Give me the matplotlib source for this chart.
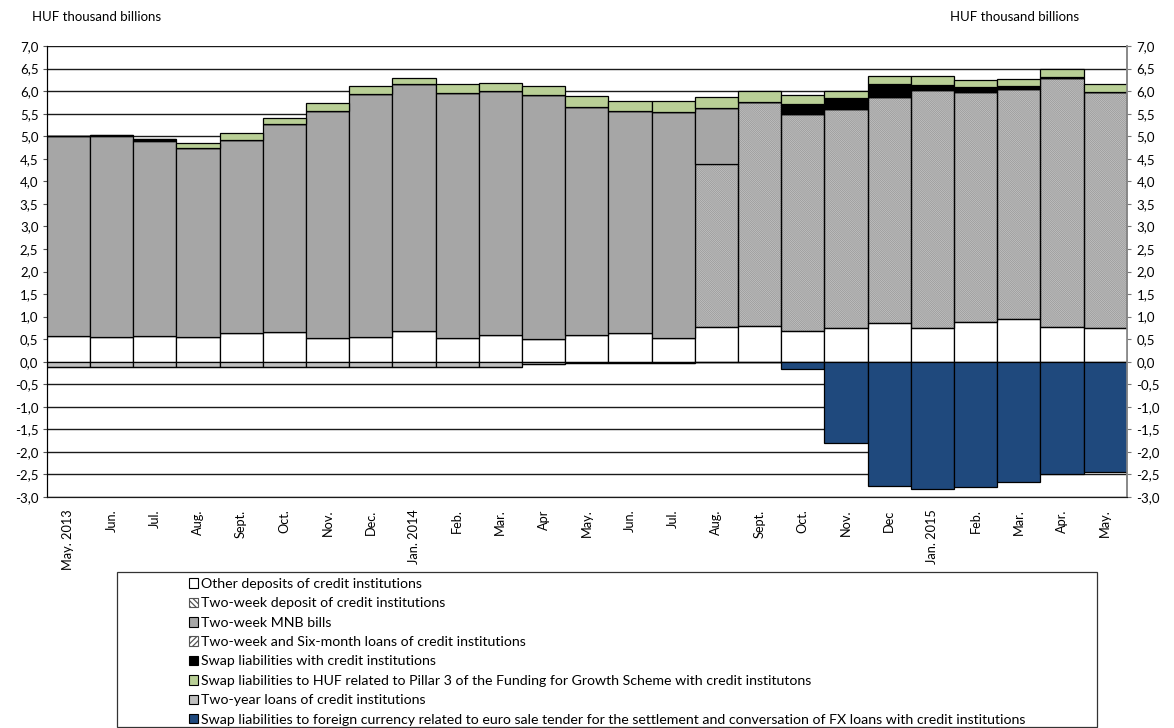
import numpy as np
import matplotlib.pyplot as plt
from matplotlib.patches import Patch, Rectangle

plt.rcParams['font.family'] = ['Lato', 'DejaVu Sans']
plt.rcParams['hatch.linewidth'] = 0.9

months = ['May. 2013', 'Jun.', 'Jul.', 'Aug.', 'Sept.', 'Oct.', 'Nov.', 'Dec.',
          'Jan. 2014', 'Feb.', 'Mar.', 'Apr', 'May.', 'Jun.', 'Jul.', 'Aug.',
          'Sept.', 'Oct.', 'Nov.', 'Dec', 'Jan. 2015', 'Feb.', 'Mar.', 'Apr.', 'May.']

# HUF thousand billions
other_dep = [0.57, 0.55, 0.57, 0.55, 0.63, 0.66, 0.52, 0.55, 0.69, 0.52, 0.60, 0.50, 0.60,
             0.63, 0.52, 0.77, 0.80, 0.69, 0.74, 0.86, 0.74, 0.88, 0.94, 0.77, 0.74]
two_week_dep = [0, 0, 0, 0, 0, 0, 0, 0, 0, 0, 0, 0, 0,
                0, 0, 3.61, 4.95, 4.81, 4.87, 5.02, 5.29, 5.11, 5.11, 5.53, 5.24]
mnb_bills = [4.44, 4.45, 4.32, 4.18, 4.29, 4.60, 5.04, 5.39, 5.47, 5.43, 5.41, 5.42, 5.05,
             4.93, 5.01, 1.24, 0, 0, 0, 0, 0, 0, 0, 0, 0]
loans = [0] * 25
swap = [0, 0.02, 0.04, 0, 0, 0, 0, 0, 0, 0, 0, 0, 0,
        0, 0, 0, 0, 0.21, 0.23, 0.27, 0.11, 0.10, 0.07, 0.02, 0.01]
swap_fgs = [0, 0, 0, 0.12, 0.15, 0.14, 0.17, 0.18, 0.12, 0.20, 0.17, 0.19, 0.24,
            0.22, 0.25, 0.25, 0.26, 0.21, 0.17, 0.18, 0.19, 0.16, 0.15, 0.17, 0.17]
two_year = [-0.12, -0.12, -0.12, -0.12, -0.12, -0.12, -0.12, -0.12, -0.12, -0.12, -0.12,
            -0.04, -0.02, -0.02, -0.02, -0.01, 0, 0, 0, 0, 0, 0, 0, 0, 0]
fx_swap = [0, 0, 0, 0, 0, 0, 0, 0, 0, 0, 0, 0, 0,
           0, 0, 0, 0, -0.16, -1.81, -2.75, -2.83, -2.78, -2.67, -2.50, -2.45]

labels = ['Other deposits of credit institutions',
          'Two-week deposit of credit institutions',
          'Two-week MNB bills',
          'Two-week and Six-month loans of credit institutions',
          'Swap liabilities with credit institutions',
          'Swap liabilities to HUF related to Pillar 3 of the Funding for Growth Scheme with credit institutons',
          'Two-year loans of credit institutions',
          'Swap liabilities to foreign currency related to euro sale tender for the settlement and conversation of FX loans with credit institutions']

fig = plt.figure(figsize=(11.74, 7.28), dpi=100)
ax = fig.add_axes([0.0398, 0.3173, 0.92, 0.6195])

x = np.arange(len(months))
w = 1.0
lw = 0.9
hatch_col = '#a0a0a0'

# positive stack
pos = [(other_dep, 'white', None),
       (two_week_dep, 'white', '\\' * 16),
       (mnb_bills, '#a6a6a6', None),
       (loans, 'white', '/' * 16),
       (swap, 'black', None),
       (swap_fgs, '#b9cf96', None)]
bottom = np.zeros(len(x))
for vals, col, hatch in pos:
    vals = np.array(vals)
    if hatch:
        ax.bar(x, vals, w, bottom=bottom, color=col, edgecolor=hatch_col, hatch=hatch,
               linewidth=0, zorder=2)
        ax.bar(x, vals, w, bottom=bottom, fill=False, edgecolor='black', linewidth=lw, zorder=3)
    else:
        ax.bar(x, vals, w, bottom=bottom, color=col, edgecolor='black', linewidth=lw, zorder=3)
    bottom += vals

# negative stack
nbottom = np.zeros(len(x))
for vals, col in [(two_year, '#bfbfbf'), (fx_swap, '#1f497d')]:
    vals = np.array(vals)
    ax.bar(x, vals, w, bottom=nbottom, color=col, edgecolor='black', linewidth=lw, zorder=3)
    nbottom += vals

fs = 9.5
ax.set_xlim(-0.5, len(x) - 0.5)
ax.set_ylim(-3.0, 7.0)
yt = np.arange(-3.0, 7.01, 0.5)
ax.set_yticks(yt)
ax.set_yticklabels([('%.1f' % v).replace('.', ',') for v in yt], fontsize=fs)
ax.yaxis.grid(True, color='#1a1a1a', linewidth=1.0, zorder=0)
ax.set_axisbelow(True)
ax.tick_params(axis='y', length=3, pad=3, color='#555555')

ax.set_xticks(x)
ax.set_xticklabels(months, rotation=90, fontsize=9.2)
ax.tick_params(axis='x', length=0, pad=9)

ax2 = ax.twinx()
ax2.set_ylim(-3.0, 7.0)
ax2.set_yticks(yt)
ax2.set_yticklabels([('%.1f' % v).replace('.', ',') for v in yt], fontsize=fs)
ax2.tick_params(axis='y', length=3, pad=4, color='#777777')

for a in (ax, ax2):
    a.spines['top'].set_visible(False)
    a.spines['bottom'].set_color('#1a1a1a')
    a.spines['left'].set_color('black')
    a.spines['right'].set_color('#888888')
    a.spines['right'].set_linewidth(1.2)

fig.text(0.0275, 0.977, 'HUF thousand billions', fontsize=9.5, va='center', ha='left')
fig.text(0.809, 0.977, 'HUF thousand billions', fontsize=9.5, va='center', ha='left')

# legend
handles = [Patch(facecolor='white', edgecolor='black', linewidth=0.8),
           Patch(facecolor='white', edgecolor='#555555', hatch='\\' * 6, linewidth=0.8),
           Patch(facecolor='#a6a6a6', edgecolor='black', linewidth=0.8),
           Patch(facecolor='white', edgecolor='#555555', hatch='/' * 6, linewidth=0.8),
           Patch(facecolor='black', edgecolor='black', linewidth=0.8),
           Patch(facecolor='#b9cf96', edgecolor='black', linewidth=0.8),
           Patch(facecolor='#bfbfbf', edgecolor='black', linewidth=0.8),
           Patch(facecolor='#1f497d', edgecolor='black', linewidth=0.8)]
fig.legend(handles, labels, loc='upper left', bbox_to_anchor=(0.161, 0.206),
           frameon=False, fontsize=10.2, handlelength=0.65, handleheight=0.65,
           handletextpad=0.2, labelspacing=0.52, borderpad=0, borderaxespad=0)
fig.patches.append(Rectangle((117 / 1174, 1 - 727 / 728), (1097 - 117) / 1174, (727 - 572) / 728,
                             transform=fig.transFigure, fill=False, edgecolor='#333333',
                             linewidth=0.9))

fig.savefig('out.png', dpi=100)
